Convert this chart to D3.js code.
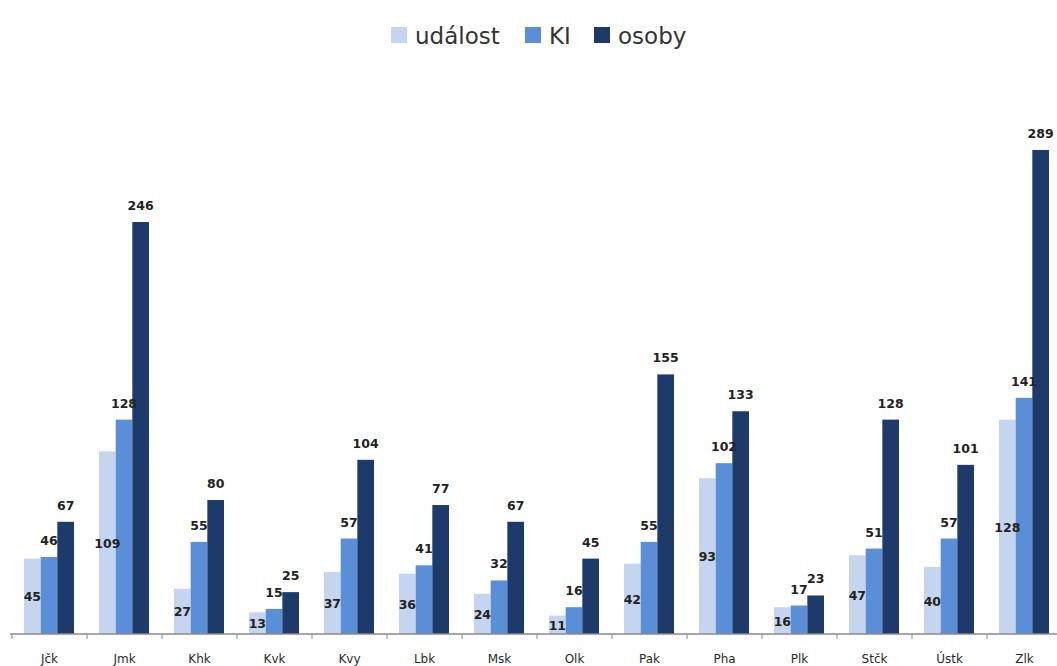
<!DOCTYPE html>
<html>
<head>
<meta charset="utf-8">
<script src="https://cdn.jsdelivr.net/npm/d3@7"></script>
<style>
  body { margin: 0; background: #fff; }
  text { font-family: "DejaVu Sans", sans-serif; }
</style>
</head>
<body>
<div class="viz"></div>
<script>
const w = 1057;
const h = 666;

const regions = ["Jčk", "Jmk", "Khk", "Kvk", "Kvy", "Lbk", "Msk", "Olk", "Pak", "Pha", "Plk", "Stčk", "Ústk", "Zlk"];
const seriesNames = ["událost", "KI", "osoby"];
const udalost = [45, 109, 27, 13, 37, 36, 24, 11, 42, 93, 16, 47, 40, 128];
const ki = [46, 128, 55, 15, 57, 41, 32, 16, 55, 102, 17, 51, 57, 141];
const osoby = [67, 246, 80, 25, 104, 77, 67, 45, 155, 133, 23, 128, 101, 289];
const colors = ["#c5d5ef", "#5a8ed6", "#1e3a6a"];

const svg = d3.select(".viz")
    .append("svg")
    .attr("width", w)
    .attr("height", h);

const baseY = 634;

const x = d3.scaleBand()
    .domain(regions)
    .range([12, 12 + 75 * regions.length])
    .paddingInner(0)
    .paddingOuter(0);

const xs = d3.scaleBand()
    .domain(seriesNames)
    .range([12, 62]);

const y = d3.scaleLinear()
    .domain([0, 289])
    .range([baseY, 150]);

const series = [udalost, ki, osoby];

// bars
series.forEach(function (vals, si) {
    svg.append("g")
        .selectAll("rect")
        .data(vals)
        .enter()
        .append("rect")
        .attr("x", (d, i) => x(regions[i]) + xs(seriesNames[si]))
        .attr("y", d => y(d))
        .attr("width", xs.bandwidth())
        .attr("height", d => baseY - y(d))
        .style("fill", colors[si]);
});

// axis
const axis = svg.append("g")
    .attr("transform", "translate(0," + baseY + ")")
    .call(d3.axisBottom(x).tickSize(0).tickPadding(20));
axis.select(".domain").attr("d", "M10,0H" + w).style("stroke", "#8a8a8a").style("stroke-width", 1.3);
axis.selectAll("text")
    .style("font-size", "12px")
    .style("fill", "#2a2a2a")
    .attr("font-family", "DejaVu Sans");

svg.append("g")
    .selectAll("line")
    .data(d3.range(regions.length + 1))
    .enter()
    .append("line")
    .attr("x1", i => 12 + i * x.step())
    .attr("x2", i => 12 + i * x.step())
    .attr("y1", baseY)
    .attr("y2", baseY + 5)
    .style("stroke", "#8a8a8a");

// labels
const lab = svg.append("g")
    .style("font-size", "12.5px")
    .style("font-weight", "bold")
    .style("fill", "#222")
    .attr("text-anchor", "middle");

lab.selectAll("text.u")
    .data(udalost)
    .enter()
    .append("text")
    .attr("x", (d, i) => x(regions[i]) + xs("událost") + xs.bandwidth() / 2)
    .attr("y", d => (y(d) + baseY) / 2 + 5)
    .text(d => d);

[ki, osoby].forEach(function (vals, k) {
    const name = seriesNames[k + 1];
    lab.selectAll("text.s" + k)
        .data(vals)
        .enter()
        .append("text")
        .attr("x", (d, i) => x(regions[i]) + xs(name) + xs.bandwidth() / 2)
        .attr("y", d => y(d) - 12)
        .text(d => d);
});

// legend
const legendX = [391, 525, 594];
const leg = svg.append("g");
seriesNames.forEach(function (n, i) {
    leg.append("rect")
        .attr("x", legendX[i])
        .attr("y", 27)
        .attr("width", 16)
        .attr("height", 16)
        .style("fill", colors[i]);
    leg.append("text")
        .attr("x", legendX[i] + 24)
        .attr("y", 44)
        .style("font-size", "23px")
        .style("fill", "#333")
        .text(n);
});
</script>
</body>
</html>
